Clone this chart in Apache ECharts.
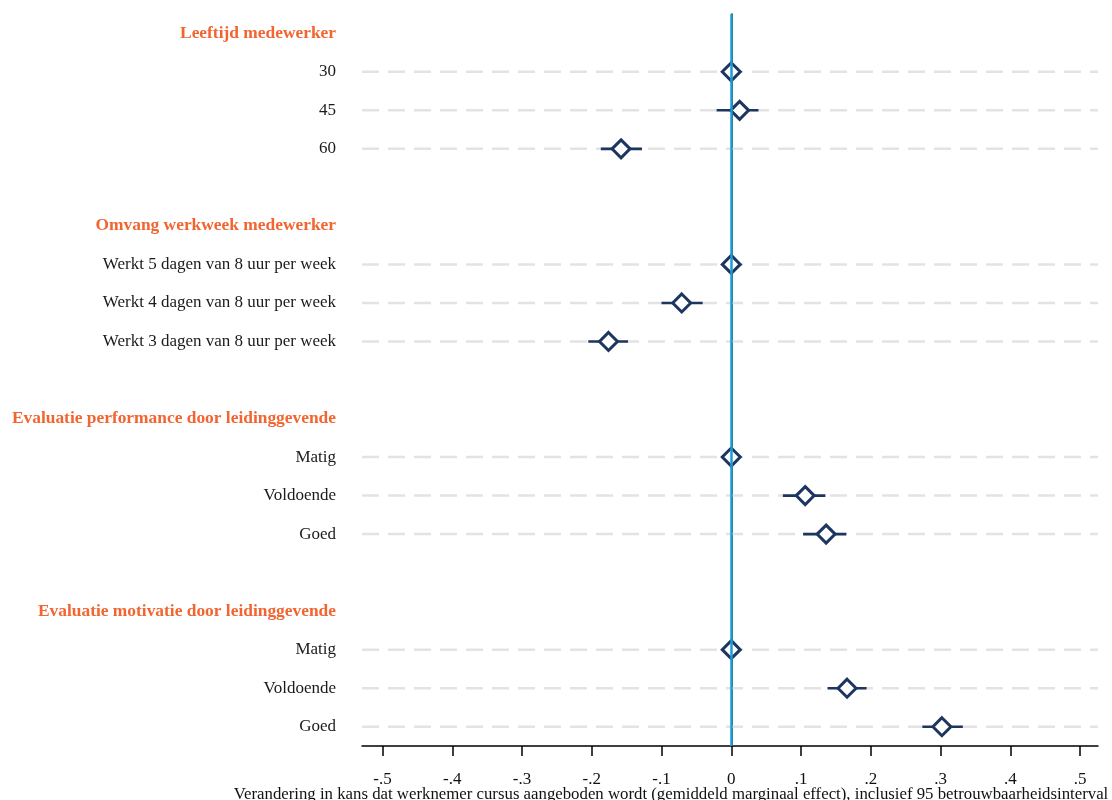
<!DOCTYPE html>
<html>
<head>
<meta charset="utf-8">
<script src="https://cdn.jsdelivr.net/npm/echarts@6/dist/echarts.min.js"></script>
<style>
  html, body { margin: 0; padding: 0; background: #fff; }
  #chart { width: 1112px; height: 800px; }
</style>
</head>
<body>
<div id="chart"></div>
<script>
// Groups of predictors and their levels (first level is the reference category)
const groupTitles = [
  'Leeftijd medewerker',
  'Omvang werkweek medewerker',
  'Evaluatie performance door leidinggevende',
  'Evaluatie motivatie door leidinggevende'
];
const levelLabels = [
  ['30', '45', '60'],
  ['Werkt 5 dagen van 8 uur per week', 'Werkt 4 dagen van 8 uur per week', 'Werkt 3 dagen van 8 uur per week'],
  ['Matig', 'Voldoende', 'Goed'],
  ['Matig', 'Voldoende', 'Goed']
];
// Average marginal effects and 95% confidence bounds
const estimates = [
  [0, 0.012, -0.158],
  [0, -0.071, -0.176],
  [0, 0.106, 0.136],
  [0, 0.166, 0.302]
];
const ciLower = [
  [null, -0.021, -0.187],
  [null, -0.100, -0.205],
  [null, 0.074, 0.103],
  [null, 0.138, 0.274]
];
const ciUpper = [
  [null, 0.039, -0.128],
  [null, -0.041, -0.148],
  [null, 0.135, 0.165],
  [null, 0.194, 0.332]
];
const xTickValues = [-0.5, -0.4, -0.3, -0.2, -0.1, 0, 0.1, 0.2, 0.3, 0.4, 0.5];
const xTickLabels = ['-.5', '-.4', '-.3', '-.2', '-.1', '0', '.1', '.2', '.3', '.4', '.5'];
const xTitle = 'Verandering in kans dat werknemer cursus aangeboden wordt (gemiddeld marginaal effect), inclusief 95 betrouwbaarheidsinterval';

// Build the row layout: header, levels, blank spacer between groups
const rowLabels = [];
const headerRows = new Set();
const levelRows = [];
const pointData = [];
const ciData = [];
groupTitles.forEach((title, g) => {
  headerRows.add(rowLabels.length);
  rowLabels.push(title);
  levelLabels[g].forEach((lab, i) => {
    const row = rowLabels.length;
    rowLabels.push(lab);
    levelRows.push([0, row]);
    pointData.push([estimates[g][i], row]);
    if (ciLower[g][i] !== null) ciData.push([ciLower[g][i], row, ciUpper[g][i]]);
  });
  if (g < groupTitles.length - 1) rowLabels.push('');
});

const FONT = '"Liberation Serif", "Times New Roman", serif';
const NAVY = '#1d365f';

const chart = echarts.init(document.getElementById('chart'), null, { renderer: 'canvas' });
chart.setOption({
  animation: false,
  backgroundColor: '#ffffff',
  grid: { left: 362, top: 14, width: 736, height: 732, containLabel: false },
  xAxis: {
    type: 'value',
    min: -0.5294,
    max: 0.5258,
    splitLine: { show: false },
    axisLine: { show: true, lineStyle: { color: '#000', width: 1.5 } },
    axisTick: {
      show: true, inside: false, length: 10, customValues: xTickValues,
      lineStyle: { color: '#000', width: 1.5 }
    },
    axisLabel: {
      customValues: xTickValues,
      margin: 25,
      color: '#111',
      fontFamily: FONT,
      fontSize: 17,
      formatter: v => {
        let best = 0;
        xTickValues.forEach((t, i) => { if (Math.abs(t - v) < Math.abs(xTickValues[best] - v)) best = i; });
        return xTickLabels[best];
      }
    }
  },
  yAxis: {
    type: 'category',
    inverse: true,
    data: rowLabels,
    axisLine: { show: true, lineStyle: { color: '#000', width: 1.5 } },
    axisTick: { show: false },
    splitLine: { show: false },
    axisLabel: {
      interval: 0,
      margin: 26,
      fontFamily: FONT,
      fontSize: 17,
      formatter: (v, idx) => headerRows.has(idx) ? '{h|' + v + '}' : '{n|' + v + '}',
      rich: {
        h: { color: '#f26430', fontWeight: 'bold', fontFamily: FONT, fontSize: 17.4 },
        n: { color: '#1a1a1a', fontFamily: FONT, fontSize: 17 }
      }
    }
  },
  series: [
    {
      // dashed guide lines behind each level row, plus the zero reference line
      type: 'custom',
      z: 1,
      silent: true,
      data: levelRows,
      encode: { x: 0, y: 1 },
      renderItem: (params, api) => {
        const cs = params.coordSys;
        const y = api.coord([0, api.value(1)])[1];
        return {
          type: 'line',
          shape: { x1: cs.x, y1: y, x2: cs.x + cs.width, y2: y },
          style: { stroke: '#e3e3e3', lineWidth: 2.5, lineDash: [17, 9] }
        };
      },
      markLine: {
        silent: true,
        symbol: 'none',
        label: { show: false },
        lineStyle: { color: '#1a9cd8', width: 2.5, type: 'solid' },
        data: [{ xAxis: 0 }]
      }
    },
    {
      // confidence intervals
      type: 'custom',
      z: 2,
      silent: true,
      data: ciData,
      encode: { x: [0, 2], y: 1 },
      renderItem: (params, api) => {
        const p1 = api.coord([api.value(0), api.value(1)]);
        const p2 = api.coord([api.value(2), api.value(1)]);
        return {
          type: 'line',
          shape: { x1: p1[0], y1: p1[1], x2: p2[0], y2: p2[1] },
          style: { stroke: NAVY, lineWidth: 2.6 }
        };
      }
    },
    {
      // point estimates
      type: 'scatter',
      z: 3,
      silent: true,
      data: pointData,
      symbol: 'diamond',
      symbolSize: 18,
      itemStyle: { color: '#ffffff', borderColor: NAVY, borderWidth: 3, opacity: 1 }
    }
  ],
  graphic: [
    {
      type: 'text',
      x: 671,
      y: 786,
      style: { text: xTitle, fill: '#111', font: '16.8px ' + FONT, textAlign: 'center' }
    }
  ]
});
</script>
</body>
</html>
